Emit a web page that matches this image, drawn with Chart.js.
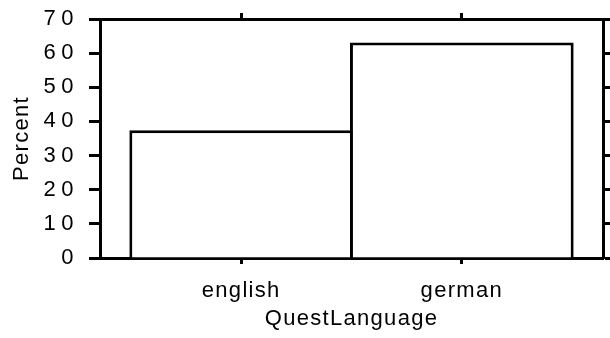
<!DOCTYPE html>
<html>
<head>
<meta charset="utf-8">
<script src="https://cdn.jsdelivr.net/npm/chart.js@4"></script>
<style>
  html, body { margin: 0; padding: 0; background: #fff; }
  #wrap { width: 610px; height: 338px; }
</style>
</head>
<body>
<div id="wrap"><canvas id="c"></canvas></div>
<script>
// QuestLanguage 비율 막대 차트
const CATS = ['english', 'german'];
const PCT = [37.4, 63.1];
const Y_MIN = 0, Y_MAX = 70, Y_STEP = 10;

const FONT = { family: '"Liberation Sans", Arial, sans-serif', size: 22 };
const POS = CATS.map((c, i) => i + 1);
const X_MIN = 0.36, X_MAX = 2.64;
const LW = 3;

// 카테고리 위치에만 눈금
const onlyCats = s => { s.ticks = POS.map(v => ({ value: v })); };
// 축 크기 고정, 라벨 여백 제거
const fix = (w, h) => s => {
  if (w != null) s.width = w;
  if (h != null) s.height = h;
  s.paddingTop = s.paddingBottom = s.paddingLeft = s.paddingRight = 0;
};

// 글자 간격: 제목/x라벨은 좁게, y 눈금 숫자는 넓게
const spacing = {
  id: 'spacing',
  beforeDraw: c => { c.ctx.letterSpacing = '1.3px'; },
  afterDatasetsDraw: c => { c.ctx.letterSpacing = '5.5px'; },
};

const line = len => ({ drawOnChartArea: false, offset: false, tickLength: len, tickWidth: LW, tickColor: '#000' });
const border = { color: '#000', width: LW };

new Chart(document.getElementById('c'), {
  type: 'bar',
  data: {
    datasets: [{
      data: POS.map((x, i) => ({ x, y: PCT[i] })),
      backgroundColor: '#fff',
      borderColor: '#000',
      borderWidth: LW,
      categoryPercentage: 1,
      barPercentage: 1.014,
    }],
  },
  options: {
    responsive: true, maintainAspectRatio: false, animation: false,
    layout: { padding: 0 },
    plugins: { legend: { display: false }, tooltip: { enabled: false } },
    scales: {
      x: {
        type: 'linear', position: 'bottom', min: X_MIN, max: X_MAX, offset: false,
        afterBuildTicks: onlyCats, afterFit: fix(null, 80),
        grid: line(6), border,
        ticks: { color: '#000', font: FONT, padding: 14, callback: v => CATS[v - 1] },
        title: { display: true, text: 'QuestLanguage', color: '#000', font: FONT, padding: { bottom: 6 } },
      },
      x2: {
        type: 'linear', position: 'top', min: X_MIN, max: X_MAX, offset: false,
        afterBuildTicks: onlyCats, afterFit: fix(null, 19),
        grid: line(6), border,
        ticks: { display: false },
      },
      y: {
        position: 'left', min: Y_MIN, max: Y_MAX, afterFit: fix(100, null),
        grid: line(11), border,
        ticks: { stepSize: Y_STEP, color: '#000', font: FONT, padding: 10, z: 1 },
        title: { display: true, text: 'Percent', color: '#000', font: FONT, padding: { top: 9 } },
      },
      y2: {
        position: 'right', min: Y_MIN, max: Y_MAX, afterFit: fix(7, null),
        grid: line(11), border,
        ticks: { stepSize: Y_STEP, display: false },
      },
    },
  },
  plugins: [spacing],
});
</script>
</body>
</html>
